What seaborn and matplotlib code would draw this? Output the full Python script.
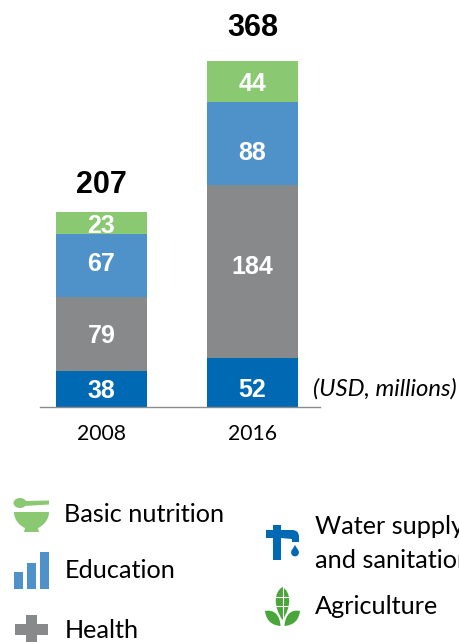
import numpy as np
import pandas as pd
import matplotlib
matplotlib.use('Agg')
import matplotlib.pyplot as plt
from matplotlib.patches import Ellipse, Polygon, Rectangle, PathPatch, Circle
from matplotlib.path import Path
import seaborn as sns

years = ['2008', '2016']
water = [38, 52]
health = [79, 184]
education = [67, 88]
nutrition = [23, 44]
totals = [207, 368]

BLUE = '#0069b4'
GREY = '#88898b'
LIGHT_BLUE = '#4f92ca'
LIGHT_GREEN = '#8ac872'
GREEN = '#4aa63b'

sns.set_theme(style='white')
plt.rcParams['font.family'] = ['Lato', 'DejaVu Sans']
num_font = 'Liberation Sans'

fig = plt.figure(figsize=(4.59, 6.42), dpi=100)
ax = fig.add_axes([40 / 459, (642 - 407) / 642, 280 / 459, 407 / 642])

df = pd.DataFrame({'year': years, 'water': water, 'health': health,
                   'education': education, 'nutrition': nutrition})
series = [('water', BLUE, [-2, -7]), ('health', GREY, [-2, 4]),
          ('education', LIGHT_BLUE, [1, -9]), ('nutrition', LIGHT_GREEN, [-3, -3])]

base = np.zeros(2)
for col, colour, shift in series:
    sns.barplot(data=df, x='year', y=col, order=years, color=colour, width=0.603,
                saturation=1, errorbar=None, bottom=base, linewidth=0, ax=ax)
    for i, v in enumerate(df[col]):
        ax.annotate(str(v), (i, base[i] + v / 2), xytext=(0, shift[i] * 0.72),
                    textcoords='offset points', ha='center', va='center',
                    color='white', fontsize=18, fontweight='bold', family=num_font)
    base = base + df[col].values

for i, t in enumerate(totals):
    ax.annotate(str(t), (i, t), xytext=(0, [27, 33][i] * 0.72), textcoords='offset points',
                ha='center', va='center', color='black', fontsize=22,
                fontweight='bold', family=num_font)

ax.set_xlim(-0.407, 1.447)
ax.set_ylim(0, 407 / 0.941)
ax.set_xlabel('')
ax.set_ylabel('')
ax.set_yticks([])
ax.tick_params(axis='x', length=0, pad=12.5, labelsize=15.2, colors='black')
sns.despine(ax=ax, left=True)
ax.spines['bottom'].set_color('#8c8c8c')
ax.spines['bottom'].set_linewidth(1)
ax.patch.set_alpha(0)

# overlay in pixels for the legend icons and texts
ov = fig.add_axes([0, 0, 1, 1])
ov.set_xlim(0, 459)
ov.set_ylim(642, 0)
ov.axis('off')
ov.patch.set_alpha(0)

ov.text(313, 389, '(USD, millions)', style='italic', fontsize=17.2, va='center', color='black')

for x, y, s in [(64.5, 515, 'Basic nutrition'), (64.5, 571, 'Education'), (64.5, 631, 'Health'),
                (315, 527, 'Water supply'), (315, 561, 'and sanitation'), (315, 606, 'Agriculture')]:
    ov.text(x, y, s, fontsize=18.2, va='center', color='black')

C3 = Path.CURVE3
C4 = Path.CURVE4
M = Path.MOVETO
L = Path.LINETO

# bowl
ov.add_patch(Ellipse((20, 503), 13, 10, color=LIGHT_GREEN, lw=0))
ov.add_patch(Polygon([(24, 501), (49, 500.5), (49, 504.5), (24, 506)], color=LIGHT_GREEN, lw=0))
bowl = Path([(14, 512), (49, 512), (49, 520), (43, 526), (38, 528), (39, 532), (24, 532), (25, 528),
             (20, 526), (14, 520), (14, 512)],
            [M, L, C4, C4, C4, L, L, L, C4, C4, C4])
ov.add_patch(PathPatch(bowl, color=LIGHT_GREEN, lw=0))

# bars
for x, top in [(14, 572), (27, 563), (40, 552)]:
    ov.add_patch(Rectangle((x, top), 9, 589 - top, color=LIGHT_BLUE, lw=0))

# plus
ov.add_patch(Rectangle((15, 624), 33, 11, color=GREY, lw=0))
ov.add_patch(Rectangle((26, 615), 11, 30, color=GREY, lw=0))

# tap
tap = Path([(266, 530), (273, 530), (273, 525), (281, 525), (281, 530), (292, 530), (299, 530), (299, 537),
            (299, 542), (292, 542), (292, 539), (281, 538), (281, 560), (273, 560), (273, 538), (266, 538), (266, 530)],
           [M, L, L, L, L, L, C3, C3, L, L, L, L, L, L, L, L, L])
ov.add_patch(PathPatch(tap, color=BLUE, lw=0))
ov.add_patch(Circle((295, 552.5), 3.9, color=BLUE, lw=0))
ov.add_patch(Polygon([(291.4, 551), (295, 545), (298.6, 551)], color=BLUE, lw=0))

# plant
leaf = Path([(282.5, 587), (291, 592), (292, 606), (282.5, 620), (273, 606), (274, 592), (282.5, 587)],
            [M, C4, C4, C4, C4, C4, C4])
ov.add_patch(PathPatch(leaf, color=GREEN, lw=0))
left = Path([(265, 611), (274, 609), (280, 615), (280.5, 626), (270, 625), (266, 619), (265, 611)],
            [M, C4, C4, C4, C4, C4, C4])
right = Path([(300, 611), (291, 609), (285, 615), (284.5, 626), (295, 625), (299, 619), (300, 611)],
             [M, C4, C4, C4, C4, C4, C4])
ov.add_patch(PathPatch(left, color=GREEN, lw=0))
ov.add_patch(PathPatch(right, color=GREEN, lw=0))
ov.plot([282.5, 282.5], [586, 627], color='white', lw=0.8)
ov.plot([272, 293], [597, 597], color='white', lw=0.8)
ov.plot([272, 293], [606, 606], color='white', lw=0.8)

fig.savefig('out.png', dpi=100)
